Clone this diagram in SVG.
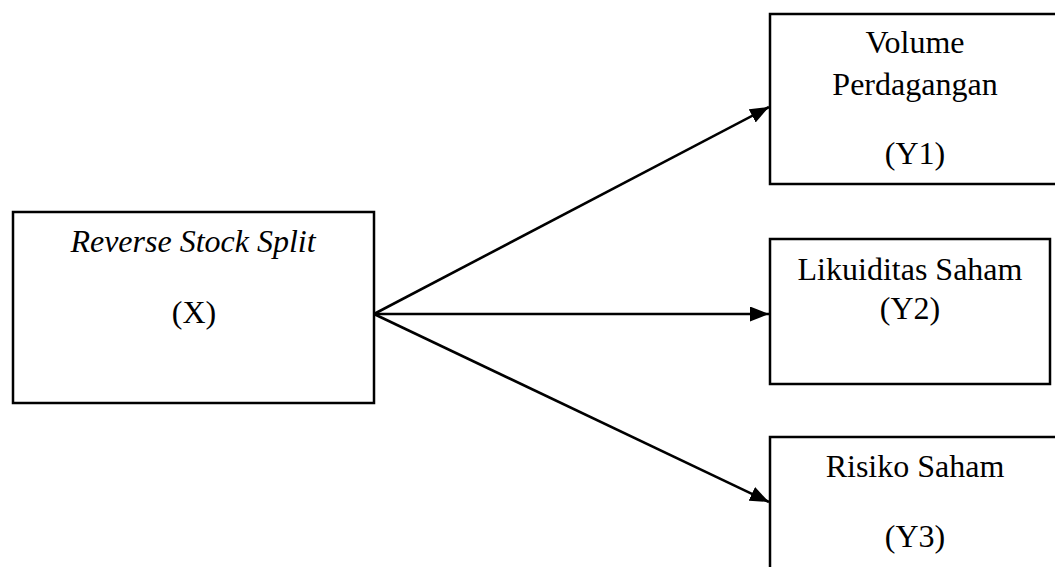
<svg xmlns="http://www.w3.org/2000/svg" width="1055" height="567" viewBox="0 0 1055 567">
<style>
.box{fill:#fff;stroke:#000;stroke-width:2.5}
.t{font-family:"Liberation Serif","Times New Roman","DejaVu Serif",serif;font-size:32px;fill:#000;text-anchor:middle}
.c{stroke:#000;stroke-width:2.6;fill:none}
</style>
<defs>
<marker id="ah" viewBox="0 0 19 15" refX="19" refY="7.5" markerWidth="19" markerHeight="15" markerUnits="userSpaceOnUse" orient="auto">
<path d="M0,0 L19,7.5 L0,15 Z" fill="#000"/>
</marker>
</defs>
<rect width="1055" height="567" fill="#fff"/>
<g id="connectors">
<line class="c" x1="374" y1="314" x2="769" y2="107" marker-end="url(#ah)"/>
<line class="c" x1="374" y1="314" x2="769" y2="314" marker-end="url(#ah)"/>
<line class="c" x1="374" y1="314" x2="769" y2="502" marker-end="url(#ah)"/>
</g>
<g id="node-x">
<rect class="box" x="13" y="212" width="361" height="191"/>
<text class="t" x="193" y="252" font-style="italic">Reverse Stock Split</text>
<text class="t" x="194" y="323">(X)</text>
</g>
<g id="node-y1">
<rect class="box" x="770" y="14" width="295" height="170"/>
<text class="t" x="915" y="53">Volume</text>
<text class="t" x="915" y="95">Perdagangan</text>
<text class="t" x="915" y="164">(Y1)</text>
</g>
<g id="node-y2">
<rect class="box" x="770" y="239" width="280" height="145"/>
<text class="t" x="910" y="280">Likuiditas Saham</text>
<text class="t" x="910" y="319">(Y2)</text>
</g>
<g id="node-y3">
<rect class="box" x="770" y="437" width="295" height="150"/>
<text class="t" x="915" y="477">Risiko Saham</text>
<text class="t" x="915" y="547">(Y3)</text>
</g>
</svg>
